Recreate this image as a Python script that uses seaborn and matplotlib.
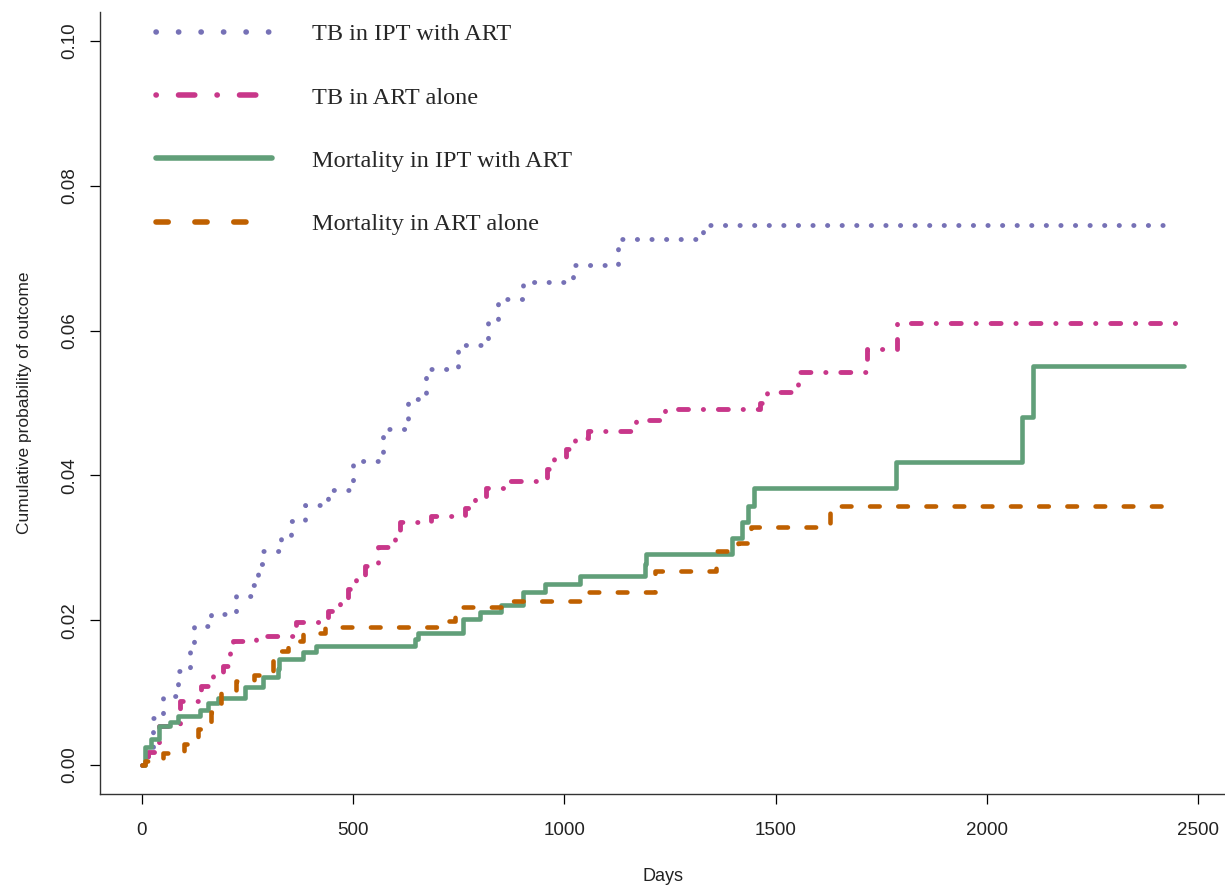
import numpy as np
import pandas as pd
import seaborn as sns
import matplotlib.pyplot as plt
from matplotlib.lines import Line2D

# step curves (days, cumulative probability)
tb_ipt_days = [0, 14, 26, 50, 85, 114, 125, 163, 223, 263, 275, 287, 330, 353, 386,
               440, 500, 571, 630, 673, 749, 820, 844, 903, 1021, 1128, 1329, 2436]
tb_ipt_prob = [0, 0.0018, 0.0065, 0.0095, 0.013, 0.0158, 0.0192, 0.0208, 0.0233, 0.0249,
               0.0278, 0.0296, 0.0312, 0.0337, 0.0359, 0.038, 0.042, 0.0464, 0.0506, 0.0547,
               0.058, 0.0616, 0.0644, 0.0667, 0.069, 0.0727, 0.0746, 0.0746]

tb_art_days = [0, 14, 42, 90, 140, 168, 192, 208, 216, 270, 365, 441, 469, 488, 507, 528,
               559, 599, 611, 685, 765, 789, 816, 870, 958, 975, 1005, 1025, 1057, 1170,
               1239, 1464, 1479, 1554, 1559, 1716, 1787, 2447]
tb_art_prob = [0, 0.0018, 0.0054, 0.0088, 0.0109, 0.0123, 0.0137, 0.0156, 0.0171, 0.0178,
               0.0197, 0.0213, 0.0225, 0.0243, 0.0257, 0.0275, 0.0301, 0.0315, 0.0336, 0.0344,
               0.0355, 0.0369, 0.0383, 0.0392, 0.0409, 0.0425, 0.0436, 0.0452, 0.0461, 0.0476,
               0.0492, 0.0500, 0.0515, 0.0529, 0.0543, 0.0575, 0.061, 0.061]

mort_ipt_days = [0, 7, 22, 42, 66, 85, 137, 157, 180, 244, 286, 322, 326, 382, 412, 646,
                 653, 760, 800, 851, 903, 954, 1037, 1191, 1194, 1396, 1420, 1436, 1448,
                 1784, 2083, 2109, 2467]
mort_ipt_prob = [0, 0.0025, 0.0036, 0.0054, 0.0059, 0.0068, 0.0076, 0.0086, 0.0093, 0.0108,
                 0.0122, 0.0133, 0.0146, 0.0156, 0.0165, 0.0174, 0.0183, 0.0202, 0.0212,
                 0.0221, 0.0239, 0.025, 0.0261, 0.0278, 0.0291, 0.0314, 0.0336, 0.0358,
                 0.0383, 0.0418, 0.0481, 0.0551, 0.0551]

mort_art_days = [0, 7, 50, 101, 133, 164, 187, 223, 267, 310, 314, 346, 382, 433, 701, 741,
                 851, 1057, 1215, 1360, 1412, 1443, 1630, 2436]
mort_art_prob = [0, 0.0006, 0.0017, 0.0029, 0.005, 0.0073, 0.01, 0.0116, 0.0124, 0.0149,
                 0.0158, 0.0171, 0.0182, 0.019, 0.0199, 0.0218, 0.0227, 0.0239, 0.0268,
                 0.0295, 0.0307, 0.0329, 0.0358, 0.0358]

labels = ["TB in IPT with ART", "TB in ART alone",
          "Mortality in IPT with ART", "Mortality in ART alone"]
colors = ["#7671B6", "#C8378A", "#619F79", "#BF6000"]

sns.set_style("ticks")
plt.rcParams['font.family'] = ['Liberation Sans', 'DejaVu Sans']

fig = plt.figure(figsize=(12.25, 8.88), dpi=100)
ax = fig.add_axes([100 / 1225, 94 / 888, 1125 / 1225, 782 / 888])

series = [(tb_ipt_days, tb_ipt_prob), (tb_art_days, tb_art_prob),
          (mort_ipt_days, mort_ipt_prob), (mort_art_days, mort_art_prob)]
plot_styles = [dict(lw=3.5, ls=(0, (0.05, 2.95))),
               dict(lw=3.5, ls=(0, (0.05, 3.05, 2.05, 3.05))),
               dict(lw=3.3, ls="-"),
               dict(lw=3.3, ls=(0, (2.1, 4.05)))]

for (d, p), lab, col, st in zip(series, labels, colors, plot_styles):
    df = pd.DataFrame({"days": d, "prob": p})
    sns.lineplot(data=df, x="days", y="prob", ax=ax, color=col, estimator=None, sort=False,
                 drawstyle="steps-post", linewidth=st["lw"], linestyle=st["ls"],
                 dash_capstyle="round", solid_capstyle="round", legend=False)

ax.set_xlim(-98.6, 2563.6)
ax.set_ylim(-0.004, 0.104)
ax.set_xticks([0, 500, 1000, 1500, 2000, 2500])
ax.set_yticks([0, 0.02, 0.04, 0.06, 0.08, 0.10])
ax.set_yticklabels(["0.00", "0.02", "0.04", "0.06", "0.08", "0.10"])
ax.tick_params(axis="both", direction="out", length=7.5, width=0.9, color="black",
               labelsize=13.5, labelcolor="#222222")
ax.tick_params(axis="x", pad=13)
ax.tick_params(axis="y", pad=8, labelrotation=90)
for t in ax.get_yticklabels():
    t.set_va("center")

for s in ["top", "right"]:
    ax.spines[s].set_visible(False)
for s in ["left", "bottom"]:
    ax.spines[s].set_linewidth(1.0)
    ax.spines[s].set_color("#333333")

ax.set_xlabel("Days", fontsize=13, color="#222222")
ax.set_ylabel("Cumulative probability of outcome", fontsize=12.5, color="#222222")
ax.xaxis.set_label_coords(0.5, -0.094)
ax.yaxis.set_label_coords(-0.0605, 0.5)

# legend handles drawn with the wider spacing used in the original key
leg_styles = [(0, (0.05, 4.0)), (0, (0.05, 4.0, 2.93, 4.0)), "-", (0, (2.2, 4.8))]
handles = [Line2D([], [], color=c, lw=4.0, ls=ls, dash_capstyle="round",
                  solid_capstyle="round") for c, ls in zip(colors, leg_styles)]
ax.legend(handles, labels, loc="upper left", bbox_to_anchor=(0.0498, 0.9856),
          frameon=False, borderpad=0, borderaxespad=0, handlelength=4.77,
          handletextpad=1.65, labelspacing=1.70,
          prop={"family": ["Liberation Serif", "DejaVu Serif"], "size": 17.5})

fig.savefig("out.png", dpi=100)
